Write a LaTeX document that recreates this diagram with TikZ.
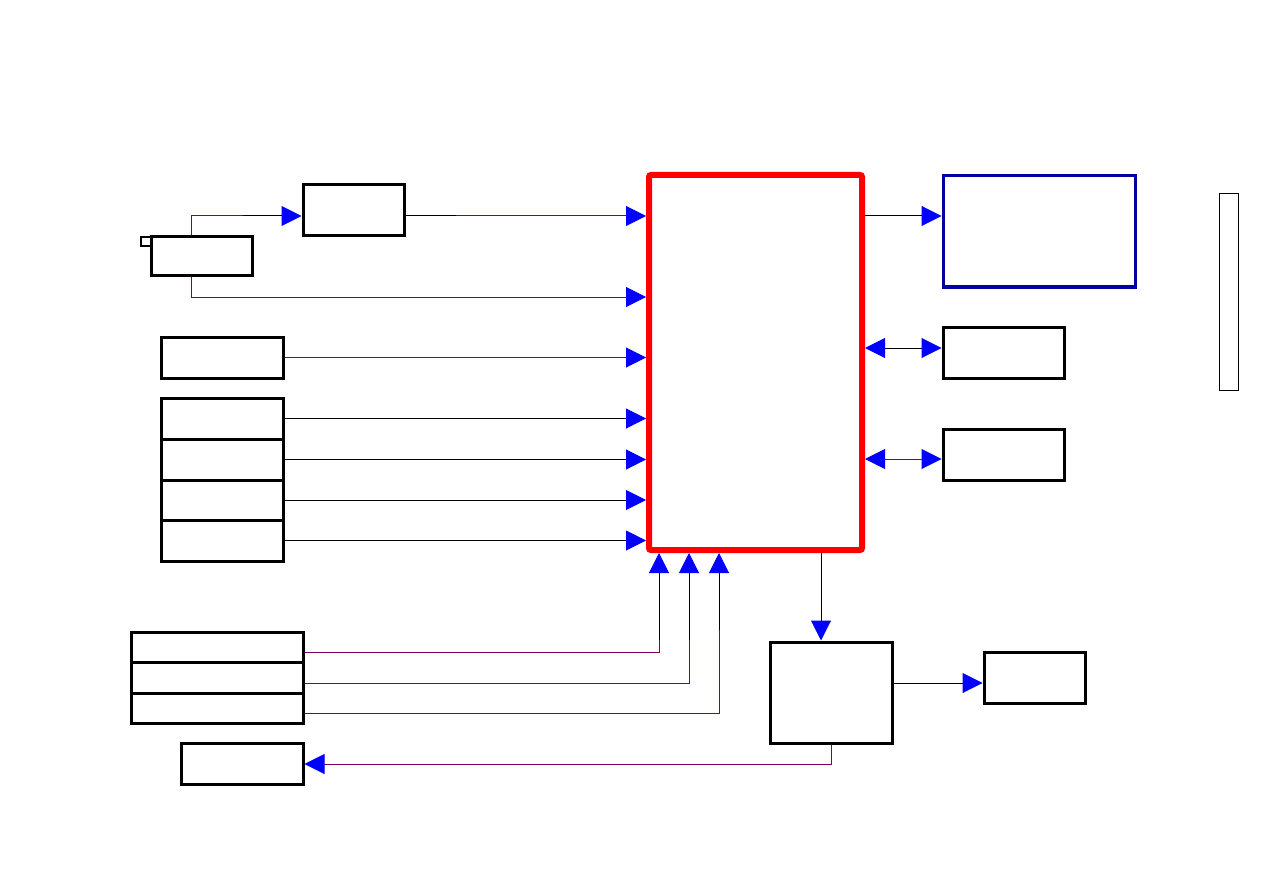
\documentclass[tikz,border=0pt]{standalone}
\usetikzlibrary{arrows.meta}
\definecolor{wire}{RGB}{128,0,96}
\definecolor{tipblue}{RGB}{0,0,255}
\definecolor{darkblue}{RGB}{0,0,160}
\tikzset{
  blk/.style={draw=black, line width=3pt, inner sep=0pt, fill=white},
  tip/.style={-{Triangle[length=20pt,width=20pt,color=tipblue]}},
  dtip/.style={{Triangle[length=20pt,width=20pt,color=tipblue]}-{Triangle[length=20pt,width=20pt,color=tipblue]}},
  pw/.style={draw=wire, line width=1pt},
  bw/.style={draw=black, line width=1pt},
}
\begin{document}
\begin{tikzpicture}[x=1pt,y=-1pt]
\useasboundingbox (0,0) rectangle (1263,893);
% nodes
\node[draw, line width=2pt, inner sep=0pt, minimum width=12pt, minimum height=9pt] (tab) at (147,241.5) {};
\node[blk, minimum width=101pt, minimum height=39pt] (b1) at (201.5,256.5) {};
\node[blk, minimum width=101pt, minimum height=51pt] (b2) at (353.5,210.5) {};
\node[draw=red, line width=6pt, inner sep=0pt, rounded corners=2pt, minimum width=213pt, minimum height=375pt] (main) at (755.5,362.5) {};
\node[draw=darkblue, line width=3pt, inner sep=0pt, minimum width=192pt, minimum height=111pt] (disp) at (1039,231.5) {};
\node[blk, minimum width=121pt, minimum height=51pt] (r1) at (1003.5,352.5) {};
\node[blk, minimum width=121pt, minimum height=51pt] (r2) at (1003.5,454.5) {};
\node[blk, minimum width=122pt, minimum height=41pt] (l3) at (222,357.5) {};
\node[blk, minimum width=122pt, minimum height=41pt] (s1) at (222,418.5) {};
\node[blk, minimum width=122pt, minimum height=41pt] (s2) at (222,459.5) {};
\node[blk, minimum width=122pt, minimum height=40pt] (s3) at (222,500) {};
\node[blk, minimum width=122pt, minimum height=41pt] (s4) at (222,540.5) {};
\node[blk, minimum width=172pt, minimum height=30pt] (t1) at (217,647) {};
\node[blk, minimum width=172pt, minimum height=31pt] (t2) at (217,677.5) {};
\node[blk, minimum width=172pt, minimum height=30pt] (t3) at (217,708) {};
\node[blk, minimum width=122pt, minimum height=41pt] (bl) at (242,763.5) {};
\node[blk, minimum width=122pt, minimum height=101pt] (m) at (831,692.5) {};
\node[blk, minimum width=101pt, minimum height=51pt] (br) at (1034.5,677.5) {};
\node[draw=black, line width=1pt, inner sep=0pt, minimum width=19pt, minimum height=196pt] (strip) at (1228.5,292) {};
% coordinates
\coordinate (c1a) at (191,216);
\coordinate (c1b) at (243,216);
\coordinate (c2a) at (456,216);
\coordinate (c3a) at (191,297);
\coordinate (u1) at (659,652);
\coordinate (u2) at (689,683);
\coordinate (u3) at (719,713);
\coordinate (u1b) at (659,640);
\coordinate (u2b) at (689,640);
\coordinate (u3b) at (719,630);
\coordinate (d1) at (831,764);
\coordinate (dd) at (0,348);
\coordinate (ee) at (0,459);
\coordinate (ff) at (0,683);
\coordinate (mm) at (821,0);
% connectors
\draw[pw] (b1.north -| c1a) -- (c1a) -- (c1b);
\draw[bw, tip] (c1b) -- (b2.west |- c1b);
\draw[bw] (b2.east |- c2a) -- (c2a);
\draw[pw, tip] (c2a) -- (main.west |- c2a);
\draw[pw, tip] (b1.south -| c3a) -- (c3a) -- (main.west |- c3a);
\draw[pw, tip] (l3.east) -- (main.west |- l3.east);
\draw[bw, tip] (s1.east) -- (main.west |- s1.east);
\draw[bw, tip] (s2.east) -- (main.west |- s2.east);
\draw[bw, tip] (s3.east) -- (main.west |- s3.east);
\draw[bw, tip] (s4.east) -- (main.west |- s4.east);
\draw[pw] (t1.east |- u1) -- (u1) -- (u1b);
\draw[bw, tip] (u1b) -- (main.south -| u1b);
\draw[pw] (t2.east |- u2) -- (u2) -- (u2b);
\draw[bw, tip] (u2b) -- (main.south -| u2b);
\draw[pw] (t3.east |- u3) -- (u3) -- (u3b);
\draw[bw, tip] (u3b) -- (main.south -| u3b);
\draw[bw, tip] (main.east |- c1a) -- (disp.west |- c1a);
\draw[bw, dtip] (main.east |- dd) -- (r1.west |- dd);
\draw[pw, dtip] (main.east |- ee) -- (r2.west |- ee);
\draw[bw, tip] (main.south -| mm) -- (m.north -| mm);
\draw[bw, tip] (m.east |- ff) -- (br.west |- ff);
\draw[pw, tip] (m.south -| d1) -- (d1) -- (bl.east |- d1);
\end{tikzpicture}
\end{document}
